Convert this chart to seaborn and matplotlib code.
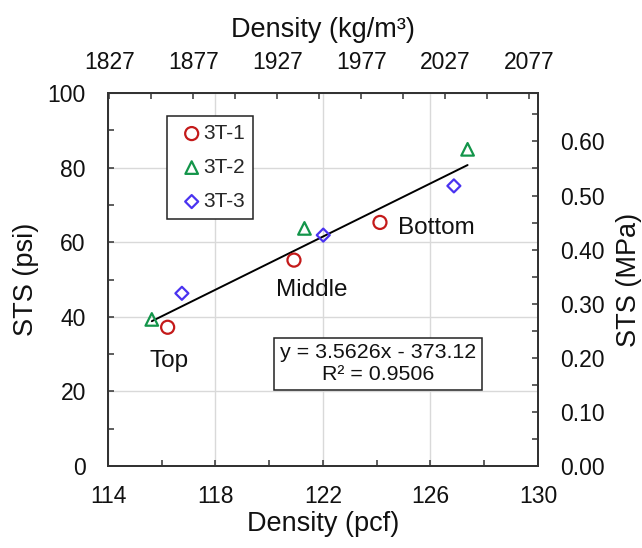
import numpy as np
import pandas as pd
import matplotlib
matplotlib.use("Agg")
import matplotlib.pyplot as plt
from matplotlib.ticker import MultipleLocator, FixedLocator, FormatStrFormatter
import seaborn as sns

# Splitting tensile strength (STS) against core density for three cores
series = ["3T-1", "3T-2", "3T-3"]
density_3t1 = [116.22, 120.92, 124.12]
sts_3t1 = [37.2, 55.2, 65.3]
density_3t2 = [115.63, 121.31, 127.38]
sts_3t2 = [39.3, 63.7, 84.9]
density_3t3 = [116.75, 122.01, 126.87]
sts_3t3 = [46.3, 61.9, 75.1]

# Linear trend reported on the chart
slope = 3.5626
intercept = -373.12
r_squared = 0.9506

bottom_ticks = [114, 118, 122, 126, 130]
left_ticks = [0, 20, 40, 60, 80, 100]
top_ticks = [1827, 1877, 1927, 1977, 2027, 2077]
right_ticks = [0.0, 0.1, 0.2, 0.3, 0.4, 0.5, 0.6]

PCF_TO_KGM3 = 16.0185
PSI_TO_MPA = 0.00689476

sns.set_style("white")
plt.rcParams["font.family"] = ["Liberation Sans", "DejaVu Sans"]

df = pd.DataFrame({
    "density": density_3t1 + density_3t2 + density_3t3,
    "sts": sts_3t1 + sts_3t2 + sts_3t3,
    "core": [series[0]] * 3 + [series[1]] * 3 + [series[2]] * 3,
})

colors = {"3T-1": "#C41A1A", "3T-2": "#13954A", "3T-3": "#4A33F0"}
markers = {"3T-1": "o", "3T-2": "^", "3T-3": "D"}
sizes = {"3T-1": 88, "3T-2": 82, "3T-3": 44}

spine_c = "#333333"
tick_fs = 16.5
label_fs = 19.5

fig = plt.figure(figsize=(6.42, 5.48), dpi=100)
ax = fig.add_axes([0.1682, 0.1496, 0.6698, 0.6807])

for name in series:
    sub = df[df["core"] == name]
    sns.scatterplot(data=sub, x="density", y="sts", ax=ax, marker=markers[name],
                    s=sizes[name], color=colors[name], facecolor="none",
                    edgecolor=colors[name], linewidth=1.6, label=name, zorder=3)

# trend line over the measured density range
x_fit = np.array([df["density"].min(), df["density"].max()])
sns.lineplot(x=x_fit, y=slope * x_fit + intercept, ax=ax, color="black",
             linewidth=1.4, zorder=2, legend=False)

ax.set_xlim(114, 130)
ax.set_ylim(0, 100)
ax.xaxis.set_major_locator(FixedLocator(bottom_ticks))
ax.xaxis.set_minor_locator(MultipleLocator(2))
ax.yaxis.set_major_locator(FixedLocator(left_ticks))
ax.yaxis.set_minor_locator(MultipleLocator(10))
ax.grid(True, which="major", color="#d9d9d9", linewidth=1.0)
ax.set_axisbelow(True)
ax.tick_params(axis="both", which="both", direction="in", length=4.5, width=1.1,
               color=spine_c, labelsize=tick_fs, labelcolor="#111111")
ax.tick_params(axis="x", which="major", pad=14)
ax.tick_params(axis="y", which="major", pad=16)
ax.set_xlabel("Density (pcf)", fontsize=label_fs, labelpad=2, color="#111111")
ax.set_ylabel("STS (psi)", fontsize=label_fs, labelpad=6, color="#111111")

# secondary axes in SI units
ax_top = ax.twiny()
ax_top.set_xlim(114 * PCF_TO_KGM3, 130 * PCF_TO_KGM3)
ax_top.xaxis.set_major_locator(FixedLocator(top_ticks))
ax_top.xaxis.set_minor_locator(FixedLocator([t + 25 for t in top_ticks]))
ax_top.tick_params(axis="x", which="both", direction="in", length=4.5, width=1.1,
                   color=spine_c, labelsize=tick_fs, labelcolor="#111111", pad=14)
ax_top.set_xlabel("Density (kg/m³)", fontsize=label_fs, labelpad=10, color="#111111")

ax_right = ax.twinx()
ax_right.set_ylim(0, 100 * PSI_TO_MPA)
ax_right.yaxis.set_major_locator(FixedLocator(right_ticks))
ax_right.yaxis.set_minor_locator(MultipleLocator(0.05))
ax_right.yaxis.set_major_formatter(FormatStrFormatter("%.2f"))
ax_right.tick_params(axis="y", which="both", direction="in", length=4.5, width=1.1,
                     color=spine_c, labelsize=tick_fs, labelcolor="#111111", pad=16)
ax_right.set_ylabel("STS (MPa)", fontsize=label_fs, labelpad=8, color="#111111")

for a in (ax, ax_top, ax_right):
    for sp in a.spines.values():
        sp.set_color(spine_c)
        sp.set_linewidth(1.3)

leg = ax.legend(loc="upper left", bbox_to_anchor=(0.1365, 0.938), borderaxespad=0,
                fontsize=15, frameon=True, fancybox=False, framealpha=1,
                edgecolor="#222222", handlelength=1.64, handletextpad=-0.27,
                borderpad=0.38, labelspacing=0.72, scatterpoints=1)
leg.get_frame().set_linewidth(1.1)

# position labels along the trend
ax.text(116.27, 26.6, "Top", fontsize=17.5, ha="center", va="baseline", color="#111111")
ax.text(121.57, 45.6, "Middle", fontsize=17.5, ha="center", va="baseline", color="#111111")
ax.text(126.23, 62.2, "Bottom", fontsize=17.5, ha="center", va="baseline", color="#111111")

ax.text(0.628, 0.2735, f"y = {slope:.4f}x - {abs(intercept):.2f}\nR² = {r_squared:.4f}",
        transform=ax.transAxes, fontsize=15.4, ha="center", va="center",
        linespacing=1.2, color="#111111",
        bbox=dict(boxstyle="square,pad=0.27", facecolor="white",
                  edgecolor="#222222", linewidth=1.1))

fig.savefig("out.png", dpi=100)
